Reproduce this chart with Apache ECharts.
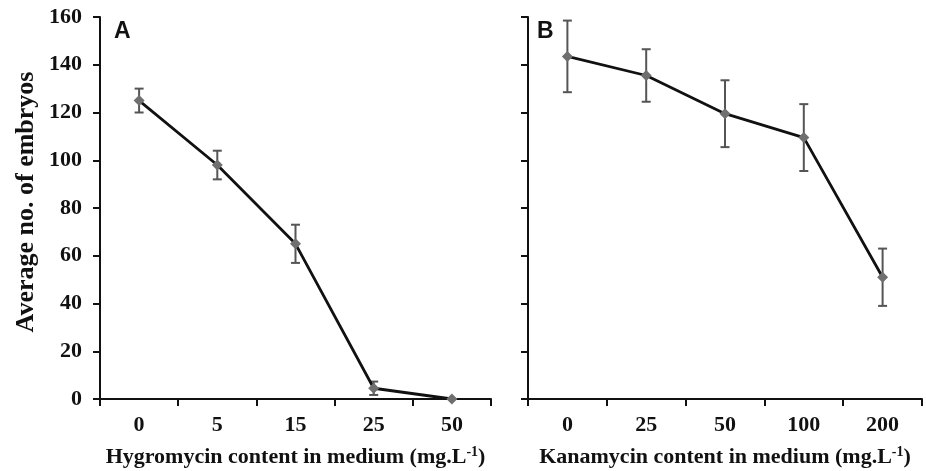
<!DOCTYPE html>
<html><head><meta charset="utf-8">
<script src="https://cdn.jsdelivr.net/npm/echarts@6/dist/echarts.min.js"></script>
<style>html,body{margin:0;padding:0;background:#fff}#c{width:926px;height:471px}</style>
</head><body><div id="c"></div>
<script>
const catsA = ['0','5','15','25','50'];
const meanA = [125, 98, 65, 4.5, 0];
const errA  = [5, 6, 8, 2.8, 0];
const catsB = ['0','25','50','100','200'];
const meanB = [143.5, 135.5, 119.5, 109.5, 51];
const errB  = [15, 11, 14, 14, 12];
const yTicks = [0, 20, 40, 60, 80, 100, 120, 140, 160];

const serif = 'Liberation Serif';
const chart = echarts.init(document.getElementById('c'));

function errSeries(idx, mean, err){
  return {
    type:'custom', xAxisIndex:idx, yAxisIndex:idx, z:2,
    data: mean.map((m,i)=>[i, m-err[i], m+err[i]]),
    renderItem: function(params, api){
      const lo = api.coord([api.value(0), api.value(1)]);
      const hi = api.coord([api.value(0), api.value(2)]);
      const w = 4.5;
      const st = {stroke:'#555', lineWidth:2};
      return {type:'group', children:[
        {type:'line', shape:{x1:lo[0],y1:lo[1],x2:hi[0],y2:hi[1]}, style:st},
        {type:'line', shape:{x1:lo[0]-w,y1:lo[1],x2:lo[0]+w,y2:lo[1]}, style:st},
        {type:'line', shape:{x1:hi[0]-w,y1:hi[1],x2:hi[0]+w,y2:hi[1]}, style:st}
      ]};
    }
  };
}
function lineSeries(idx, mean){
  return {type:'line', xAxisIndex:idx, yAxisIndex:idx, z:3, data:mean,
    symbol:'diamond', symbolSize:11, showAllSymbol:true,
    lineStyle:{color:'#111', width:2.8},
    itemStyle:{color:'#6f6f6f', borderWidth:0}, animation:false};
}
function xAxis(idx, cats, base){
  return {type:'category', gridIndex:idx, data:cats, boundaryGap:true,
    axisLine:{lineStyle:{color:'#111', width:2}},
    axisTick:{show:true, length:7, lineStyle:{color:'#111', width:2}},
    axisLabel:{fontFamily:serif, fontWeight:'bold', fontSize:22, color:'#111', margin:15},
    name:'{a|'+base+' (mg.L}{s|-1}{a|)}', nameLocation:'middle', nameGap:46,
    nameTextStyle:{rich:{
      a:{fontFamily:serif, fontWeight:'bold', fontSize:22, color:'#111'},
      s:{fontFamily:serif, fontWeight:'bold', fontSize:14, color:'#111', padding:[0,0,10,0]}
    }}};
}
function yAxis(idx, showLabels){
  return {type:'value', gridIndex:idx, min:0, max:160, interval:20,
    splitLine:{show:false},
    axisLine:{show:true, lineStyle:{color:'#111', width:2}},
    axisTick:{show:true, length:7, lineStyle:{color:'#111', width:2}},
    axisLabel:{show:showLabels, fontFamily:serif, fontWeight:'bold', fontSize:22, color:'#111', margin:18,
      formatter: v => yTicks.includes(v) ? String(v) : ''},
    name: showLabels ? 'Average no. of embryos' : '', nameLocation:'middle', nameGap:61,
    nameTextStyle:{fontFamily:serif, fontWeight:'bold', fontSize:26, color:'#111', padding:[0,0,0,12]}};
}

chart.setOption({
  animation:false,
  backgroundColor:'#fff',
  grid:[{left:100, top:17, width:391, height:382, outerBoundsMode:'none', containLabel:false},
        {left:528, top:17, width:394, height:382, outerBoundsMode:'none', containLabel:false}],
  xAxis:[xAxis(0, catsA, 'Hygromycin content in medium'), xAxis(1, catsB, 'Kanamycin content in medium')],
  yAxis:[yAxis(0, true), yAxis(1, false)],
  graphic:[
    {type:'text', left:114, top:20, style:{text:'A', fontFamily:'Liberation Sans', fontWeight:'bold', fontSize:23, fill:'#111'}},
    {type:'text', left:537, top:20, style:{text:'B', fontFamily:'Liberation Sans', fontWeight:'bold', fontSize:23, fill:'#111'}}
  ],
  series:[errSeries(0, meanA, errA), lineSeries(0, meanA), errSeries(1, meanB, errB), lineSeries(1, meanB)]
});
</script></body></html>
